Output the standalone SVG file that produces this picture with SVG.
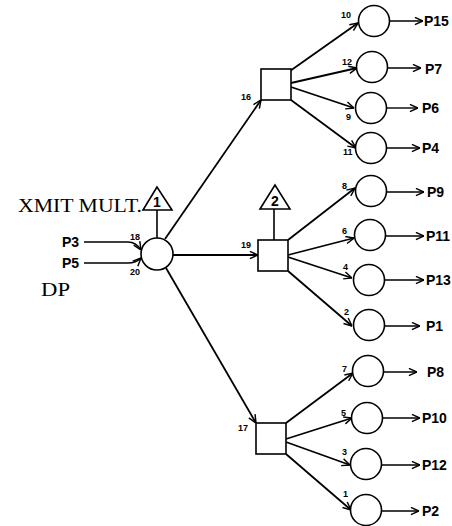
<svg xmlns="http://www.w3.org/2000/svg" width="452" height="526" viewBox="0 0 452 526">
<style>
.s{fill:none;stroke:#000;stroke-width:1.6}
.c{fill:#fff;stroke:#000;stroke-width:1.6}
.a{fill:none;stroke:#000;stroke-width:1.8;marker-end:url(#ah)}
.o{fill:none;stroke:#000;stroke-width:1.4;marker-end:url(#ah)}
.p{font-family:"Liberation Sans",Arial,sans-serif;font-size:14px;font-weight:bold;fill:#000}
.n{font-family:"Liberation Sans",Arial,sans-serif;font-size:9px;font-weight:bold;fill:#000}
.t{font-family:"Liberation Serif","Times New Roman",serif;fill:#000}
.tri{font-family:"Liberation Sans",Arial,sans-serif;font-size:14px;font-weight:bold;fill:#000;text-anchor:middle}
</style>
<defs>
<marker id="ah" viewBox="0 0 10 10" refX="10" refY="5" markerWidth="9" markerHeight="9" markerUnits="userSpaceOnUse" orient="auto">
<path d="M1,1 L10,5 L1,9" fill="none" stroke="#000" stroke-width="1.6"/>
</marker>
</defs>

<g id="connectors">
<path class="o" d="M84,242 L128,242 Q136,242 141,250"/>
<path class="o" d="M84,263 L128,263 Q136,263 141,258"/>
<line class="s" x1="157" y1="238" x2="157" y2="210"/>
<line class="s" x1="274" y1="209" x2="274" y2="240"/>
<line class="a" x1="165" y1="239" x2="261" y2="100"/>
<line class="a" x1="173" y1="255" x2="258" y2="255"/>
<line class="a" x1="166" y1="268" x2="256" y2="423"/>
<line class="a" x1="290" y1="71" x2="358" y2="23"/>
<line class="a" x1="291" y1="83" x2="357" y2="68"/>
<line class="a" x1="291" y1="87" x2="354" y2="108"/>
<line class="a" x1="291" y1="100" x2="356" y2="148"/>
<line class="a" x1="288" y1="240" x2="355" y2="188"/>
<line class="a" x1="288" y1="255" x2="354" y2="238"/>
<line class="a" x1="288" y1="257" x2="352" y2="278"/>
<line class="a" x1="288" y1="271" x2="352" y2="326"/>
<line class="a" x1="286" y1="423" x2="353" y2="373"/>
<line class="a" x1="286" y1="439" x2="352" y2="418"/>
<line class="a" x1="286" y1="442" x2="350" y2="465"/>
<line class="a" x1="286" y1="454" x2="351" y2="510"/>
<line class="o" x1="390" y1="21" x2="423" y2="21"/>
<line class="o" x1="388" y1="68" x2="421" y2="68"/>
<line class="o" x1="387" y1="108" x2="418" y2="108"/>
<line class="o" x1="387" y1="148" x2="420" y2="148"/>
<line class="o" x1="387" y1="192" x2="424" y2="192"/>
<line class="o" x1="386" y1="236" x2="424" y2="236"/>
<line class="o" x1="385" y1="280" x2="424" y2="280"/>
<line class="o" x1="385" y1="326" x2="420" y2="326"/>
<line class="o" x1="384" y1="372" x2="417" y2="372"/>
<line class="o" x1="383" y1="418" x2="420" y2="418"/>
<line class="o" x1="382" y1="465" x2="420" y2="465"/>
<line class="o" x1="382" y1="511" x2="419" y2="511"/>
</g>

<g id="labels">
<text class="t" x="18" y="212" font-size="18" textLength="124" lengthAdjust="spacingAndGlyphs">XMIT MULT.</text>
<text class="t" x="41" y="296" font-size="19" textLength="29" lengthAdjust="spacingAndGlyphs">DP</text>
<text class="p" x="62" y="247">P3</text>
<text class="p" x="62" y="268">P5</text>
<text class="n" x="130" y="240">18</text>
<text class="n" x="130" y="275">20</text>
<text class="n" x="241" y="248">19</text>
<text class="n" x="241" y="100">16</text>
<text class="n" x="238" y="431">17</text>
<text class="n" x="341" y="18">10</text>
<text class="n" x="342" y="65">12</text>
<text class="n" x="346" y="120">9</text>
<text class="n" x="343" y="155">11</text>
<text class="n" x="342" y="189">8</text>
<text class="n" x="342" y="234">6</text>
<text class="n" x="343" y="270">4</text>
<text class="n" x="344" y="315">2</text>
<text class="n" x="342" y="372">7</text>
<text class="n" x="341" y="416">5</text>
<text class="n" x="342" y="455">3</text>
<text class="n" x="343" y="497">1</text>
</g>

<g id="input">
<circle class="c" cx="157" cy="254" r="16"/>
<polygon class="c" points="157,187 143,210 172,210"/>
<text class="tri" x="157" y="207">1</text>
</g>
<g id="sw16"><rect class="c" x="261" y="69" width="30" height="31"/></g>
<g id="sw19">
<rect class="c" x="258" y="240" width="30" height="31"/>
<polygon class="c" points="275,185 260,209 290,209"/>
<text class="tri" x="275" y="206">2</text>
</g>
<g id="sw17"><rect class="c" x="256" y="423" width="30" height="31"/></g>

<g id="out-P15"><circle class="c" cx="374" cy="21" r="15.5"/><text class="p" x="424" y="26">P15</text></g>
<g id="out-P7"><circle class="c" cx="372" cy="67" r="15.5"/><text class="p" x="425" y="74">P7</text></g>
<g id="out-P6"><circle class="c" cx="371" cy="108" r="15.5"/><text class="p" x="422" y="113">P6</text></g>
<g id="out-P4"><circle class="c" cx="371" cy="148" r="15.5"/><text class="p" x="422" y="153">P4</text></g>
<g id="out-P9"><circle class="c" cx="371" cy="191" r="15.5"/><text class="p" x="427" y="197">P9</text></g>
<g id="out-P11"><circle class="c" cx="370" cy="235" r="15.5"/><text class="p" x="426" y="241">P11</text></g>
<g id="out-P13"><circle class="c" cx="369" cy="280" r="15.5"/><text class="p" x="426" y="285">P13</text></g>
<g id="out-P1"><circle class="c" cx="369" cy="325" r="15.5"/><text class="p" x="426" y="331">P1</text></g>
<g id="out-P8"><circle class="c" cx="368" cy="371" r="15.5"/><text class="p" x="427" y="377">P8</text></g>
<g id="out-P10"><circle class="c" cx="367" cy="418" r="15.5"/><text class="p" x="422" y="423">P10</text></g>
<g id="out-P12"><circle class="c" cx="366" cy="464" r="15.5"/><text class="p" x="422" y="470">P12</text></g>
<g id="out-P2"><circle class="c" cx="366" cy="510" r="15.5"/><text class="p" x="422" y="516">P2</text></g>
</svg>
